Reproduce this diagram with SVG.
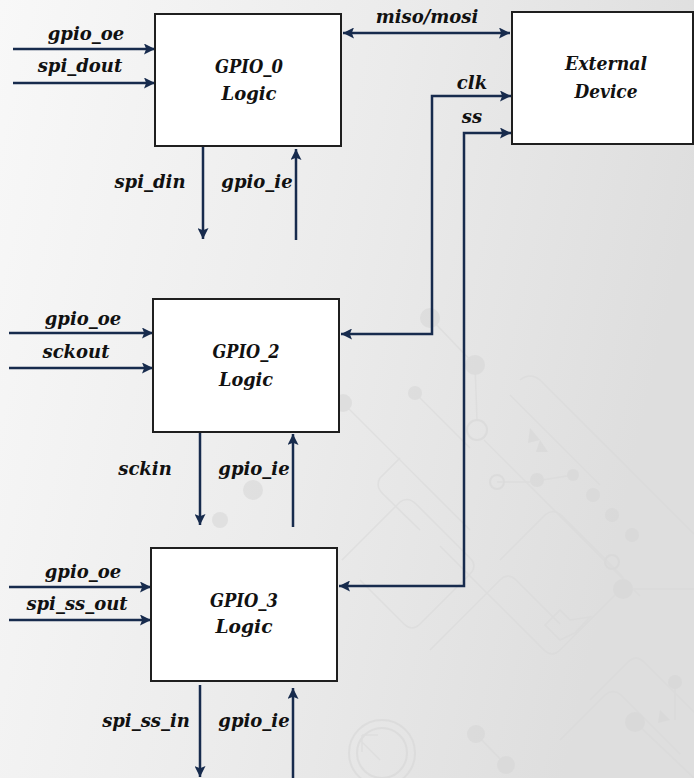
<svg xmlns="http://www.w3.org/2000/svg" width="694" height="778" viewBox="0 0 694 778">
  <defs>
    <linearGradient id="bg" x1="0" y1="0" x2="1" y2="0.25">
      <stop offset="0" stop-color="#f8f8f8"/>
      <stop offset="0.55" stop-color="#ebebeb"/>
      <stop offset="1" stop-color="#dedede"/>
    </linearGradient>
    <marker id="arr" viewBox="0 0 10 10" refX="10" refY="5" markerWidth="12" markerHeight="11" markerUnits="userSpaceOnUse" orient="auto-start-reverse">
      <path d="M0,0 L10,5 L0,10 L2,5 z" fill="#172b4d"/>
    </marker>
    <style>
      .box { fill: #ffffff; stroke: #1f1f1f; stroke-width: 2; }
      .wire { fill: none; stroke: #172b4d; stroke-width: 2.5; }
      .lbl { font-family: "DejaVu Serif", "Liberation Serif", serif; font-weight: bold; font-style: italic; font-size: 18px; fill: #111111; text-anchor: middle; }
      .ttl { font-family: "DejaVu Serif", "Liberation Serif", serif; font-weight: bold; font-style: italic; font-size: 19px; fill: #111111; text-anchor: middle; }
      .trace { fill: none; stroke: #d9d9d9; stroke-width: 1.5; }
      .pad { fill: #d6d6d6; }
      .ring { fill: none; stroke: #d6d6d6; stroke-width: 2; }
    </style>
  </defs>

  <!-- background with faint circuit-board pattern -->
  <rect x="0" y="0" width="694" height="778" fill="url(#bg)"/>
  <g id="circuit-pattern" opacity="0.55">
    <path class="trace" d="M430,318 L475,365 L477,420"/>
    <path class="trace" d="M415,393 L455,433 L470,448"/>
    <path class="trace" d="M484,440 L640,596"/>
    <path class="trace" d="M497,482 L530,482 L573,475"/>
    <path class="trace" d="M345,405 L420,480 L470,530"/>
    <path class="trace" d="M520,380 Q530,372 540,380 L694,534"/>
    <path class="trace" d="M510,395 L600,485"/>
    <path class="trace" d="M400,458 L380,478 Q375,486 383,494 L420,530"/>
    <path class="trace" d="M342,560 L400,502 Q408,496 416,504 L470,558 Q478,566 470,574 L420,624 Q412,632 404,624 L360,580"/>
    <path class="trace" d="M500,560 L545,515 Q553,508 561,515 L620,574 Q628,582 620,590 L560,650 Q552,658 544,650 L440,546"/>
    <path class="trace" d="M430,650 L500,580 Q508,572 516,580 L560,624"/>
    <path class="trace" d="M590,700 L628,662 Q636,654 644,662 L694,712"/>
    <path class="trace" d="M560,740 L605,695 Q613,688 621,695 L680,754"/>
    <path class="trace" d="M476,734 L506,765"/>
    <path class="trace" d="M635,722 L694,778"/>
    <path class="trace" d="M675,682 L675,720"/>
    <path class="trace" d="M623,589 L694,589"/>
    <path class="trace" d="M560,640 L545,625 L560,610 L570,620 L590,617 L575,633 Z"/>
    <path class="trace" d="M360,740 L380,760 M362,735 L378,735 M362,735 L362,752"/>
    <polygon points="530,428 540,440 528,443" fill="#d6d6d6"/>
    <polygon points="540,440 548,452 536,452" fill="#d6d6d6"/>
    <polygon points="660,710 670,720 658,723" fill="#d6d6d6"/>
    <circle class="pad" cx="430" cy="318" r="10"/>
    <circle class="pad" cx="475" cy="365" r="10"/>
    <circle class="pad" cx="415" cy="393" r="7"/>
    <circle class="pad" cx="343" cy="403" r="9"/>
    <circle class="pad" cx="253" cy="490" r="10"/>
    <circle class="pad" cx="220" cy="520" r="8"/>
    <circle class="pad" cx="537" cy="480" r="7"/>
    <circle class="pad" cx="573" cy="475" r="6"/>
    <circle class="pad" cx="593" cy="495" r="7"/>
    <circle class="pad" cx="612" cy="515" r="7"/>
    <circle class="pad" cx="632" cy="535" r="7"/>
    <circle class="pad" cx="623" cy="589" r="10"/>
    <circle class="pad" cx="635" cy="722" r="10"/>
    <circle class="pad" cx="675" cy="682" r="7"/>
    <circle class="pad" cx="476" cy="734" r="9"/>
    <circle class="pad" cx="506" cy="765" r="9"/>
    <circle class="ring" cx="477" cy="430" r="10"/>
    <circle class="ring" cx="497" cy="482" r="7"/>
    <circle class="ring" cx="612" cy="562" r="7"/>
    <circle class="ring" cx="382" cy="753" r="33"/>
    <circle class="ring" cx="382" cy="753" r="25"/>
  </g>

  <!-- signal wires -->
  <g id="connectors">
    <path class="wire" d="M13,49 H155" marker-end="url(#arr)"/>
    <path class="wire" d="M13,83 H155" marker-end="url(#arr)"/>
    <path class="wire" d="M203,146 V239" marker-end="url(#arr)"/>
    <path class="wire" d="M296,240 V149" marker-end="url(#arr)"/>
    <path class="wire" d="M343,33 H510" marker-start="url(#arr)" marker-end="url(#arr)"/>
    <path class="wire" d="M341,334 H432 V96 H511" marker-start="url(#arr)" marker-end="url(#arr)"/>
    <path class="wire" d="M339,586 H464 V133 H511" marker-start="url(#arr)" marker-end="url(#arr)"/>
    <path class="wire" d="M9,333 H153" marker-end="url(#arr)"/>
    <path class="wire" d="M9,368 H153" marker-end="url(#arr)"/>
    <path class="wire" d="M200,432 V525" marker-end="url(#arr)"/>
    <path class="wire" d="M293,527 V434" marker-end="url(#arr)"/>
    <path class="wire" d="M9,587 H151" marker-end="url(#arr)"/>
    <path class="wire" d="M9,620 H151" marker-end="url(#arr)"/>
    <path class="wire" d="M200,685 V777" marker-end="url(#arr)"/>
    <path class="wire" d="M293,778 V688" marker-end="url(#arr)"/>
  </g>

  <!-- wire labels -->
  <g id="labels">
    <text class="lbl" x="86" y="40">gpio_oe</text>
    <text class="lbl" x="80" y="72">spi_dout</text>
    <text class="lbl" x="150" y="188">spi_din</text>
    <text class="lbl" x="257" y="188">gpio_ie</text>
    <text class="lbl" x="427" y="23">miso/mosi</text>
    <text class="lbl" x="472" y="89">clk</text>
    <text class="lbl" x="472" y="123">ss</text>
    <text class="lbl" x="83" y="325">gpio_oe</text>
    <text class="lbl" x="76" y="358">sckout</text>
    <text class="lbl" x="145" y="475">sckin</text>
    <text class="lbl" x="254" y="475">gpio_ie</text>
    <text class="lbl" x="83" y="578">gpio_oe</text>
    <text class="lbl" x="77" y="610">spi_ss_out</text>
    <text class="lbl" x="146" y="727">spi_ss_in</text>
    <text class="lbl" x="254" y="727">gpio_ie</text>
  </g>

  <!-- block titles, squeezed to the block's narrow lettering -->
  <g id="gpio0">
    <rect class="box" x="155" y="14" width="186" height="132"/>
    <text class="ttl" x="249" y="73" textLength="68" lengthAdjust="spacingAndGlyphs">GPIO_0</text>
    <text class="ttl" x="249" y="100" textLength="55" lengthAdjust="spacingAndGlyphs">Logic</text>
  </g>

  <g id="external-device">
    <rect class="box" x="512" y="12" width="181" height="132"/>
    <text class="ttl" x="606" y="70" textLength="82" lengthAdjust="spacingAndGlyphs">External</text>
    <text class="ttl" x="606" y="98" textLength="63" lengthAdjust="spacingAndGlyphs">Device</text>
  </g>

  <g id="gpio2">
    <rect class="box" x="153" y="299" width="186" height="133"/>
    <text class="ttl" x="246" y="358" textLength="67" lengthAdjust="spacingAndGlyphs">GPIO_2</text>
    <text class="ttl" x="246" y="386" textLength="54" lengthAdjust="spacingAndGlyphs">Logic</text>
  </g>

  <g id="gpio3">
    <rect class="box" x="151" y="548" width="186" height="133"/>
    <text class="ttl" x="244" y="607" textLength="68" lengthAdjust="spacingAndGlyphs">GPIO_3</text>
    <text class="ttl" x="244" y="633" textLength="57" lengthAdjust="spacingAndGlyphs">Logic</text>
  </g>
</svg>
